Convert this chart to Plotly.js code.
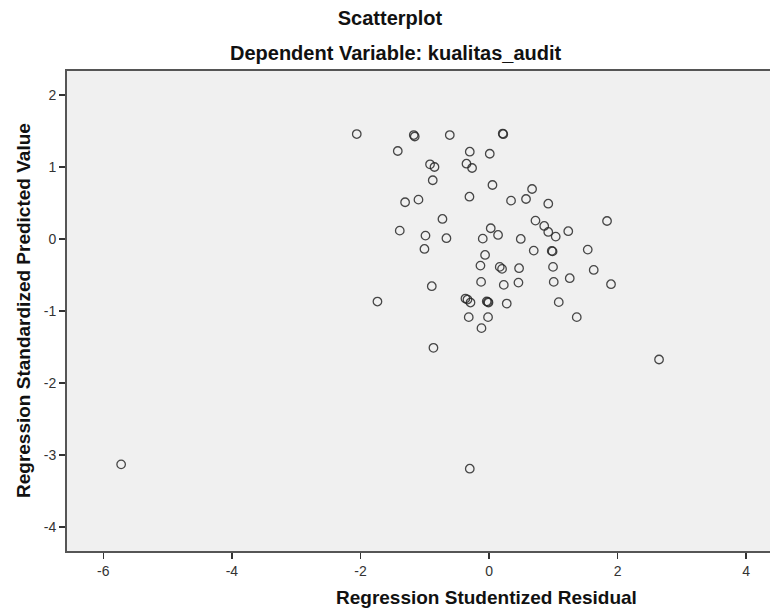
<!DOCTYPE html>
<html>
<head>
<meta charset="utf-8">
<script src="https://cdn.plot.ly/plotly-3.0.1.min.js"></script>
<style>html,body{margin:0;padding:0;background:#fff;}#chart{width:770px;height:613px;}</style>
</head>
<body>
<div id="chart"></div>
<script>
// Regression Studentized Residual (x)
const studentizedResidual = [
  -2.058, -1.171, -1.156, -0.611, 0.213, 0.221, -1.420, -0.300, 0.011, -0.918,
  -0.849, -0.351, -0.264, -0.876, 0.053, 0.669, -1.306, -1.098, -0.305, 0.342,
  0.575, 0.921, -0.725, 0.722, -1.389, -0.989, -0.663, 0.026, 0.140, -0.098,
  0.493, -1.005, -0.062, 0.695, 0.858, 0.921, 1.037, 1.232, 0.975, 0.988,
  1.535, -0.134, 0.166, 0.202, 0.467, 0.995, 1.628, -0.124, 0.229, 0.457,
  1.006, 1.255, -0.891, -1.736, -0.367, -0.336, -0.289, -0.036, -0.020, -0.009,
  0.275, 1.084, -0.316, -0.016, 1.364, -0.118, -0.865, 1.835, 1.897, 2.644,
  -5.723, -0.300
];
// Regression Standardized Predicted Value (y)
const standardizedPredicted = [
  1.455, 1.441, 1.421, 1.441, 1.462, 1.453, 1.220, 1.210, 1.182, 1.035,
  0.998, 1.044, 0.984, 0.814, 0.748, 0.693, 0.509, 0.545, 0.586, 0.531,
  0.554, 0.489, 0.277, 0.254, 0.115, 0.046, 0.010, 0.148, 0.055, 0.004,
  0.000, -0.139, -0.222, -0.162, 0.180, 0.097, 0.032, 0.107, -0.166, -0.173,
  -0.148, -0.370, -0.388, -0.416, -0.406, -0.388, -0.430, -0.596, -0.638, -0.606,
  -0.596, -0.545, -0.656, -0.869, -0.827, -0.841, -0.883, -0.866, -0.873, -0.883,
  -0.897, -0.877, -1.085, -1.085, -1.085, -1.238, -1.511, 0.249, -0.628, -1.673,
  -3.128, -3.188
];
const xTicks = [-6, -4, -2, 0, 2, 4];
const yTicks = [2, 1, 0, -1, -2, -3, -4];

const titleText = 'Scatterplot';
const subtitleText = 'Dependent Variable: kualitas_audit';
const xTitle = 'Regression Studentized Residual';
const yTitle = 'Regression Standardized Predicted Value';

const FONT = 'Liberation Sans, Arial, sans-serif';

const trace = {
  type: 'scatter',
  mode: 'markers',
  x: studentizedResidual,
  y: standardizedPredicted,
  marker: {
    symbol: 'circle-open',
    size: 8.5,
    color: 'rgba(40,40,40,0.85)',
    line: {width: 1.3, color: 'rgba(40,40,40,0.85)'}
  },
  hoverinfo: 'x+y',
  showlegend: false
};

const W = 770, H = 613;
const L = 67, R = 0, T = 71, B = 62;

const layout = {
  width: W, height: H,
  margin: {l: L, r: R, t: T, b: B, pad: 0},
  paper_bgcolor: '#ffffff',
  plot_bgcolor: '#f0f0f0',
  font: {family: FONT, size: 14, color: '#333'},
  title: {
    text: '<b>' + titleText + '</b>',
    font: {family: FONT, size: 20, color: '#111'},
    xref: 'container', x: 390 / W, xanchor: 'center',
    yref: 'container', y: 1 - 18 / H, yanchor: 'middle'
  },
  xaxis: {
    range: [-6.565, 4.37],
    tickvals: xTicks,
    ticktext: xTicks.map(String),
    ticks: 'outside', ticklen: 6, tickwidth: 1.5, tickcolor: '#333',
    showgrid: false, zeroline: false,
    showline: true, mirror: true, linecolor: '#555', linewidth: 2,
    tickfont: {family: FONT, size: 14, color: '#333'},
    title: {text: ''},
    fixedrange: true
  },
  yaxis: {
    range: [-4.33, 2.33],
    tickvals: yTicks,
    ticktext: yTicks.map(String),
    ticks: 'outside', ticklen: 6, tickwidth: 1.5, tickcolor: '#333',
    showgrid: false, zeroline: false,
    showline: true, mirror: false, linecolor: '#555', linewidth: 2,
    tickfont: {family: FONT, size: 14, color: '#333'},
    title: {text: ''},
    fixedrange: true
  },
  annotations: [
    {
      text: '<b>' + subtitleText + '</b>',
      xref: 'paper', x: (396 - L) / (W - L - R), xanchor: 'center',
      yref: 'paper', y: 1 + (T - 53) / (H - T - B), yanchor: 'middle',
      showarrow: false, font: {family: FONT, size: 20, color: '#111'}
    },
    {
      text: '<b>' + xTitle + '</b>',
      xref: 'paper', x: (486 - L) / (W - L - R), xanchor: 'center',
      yref: 'paper', y: -(597 - (H - B)) / (H - T - B), yanchor: 'middle',
      showarrow: false, font: {family: FONT, size: 19, color: '#111'}
    },
    {
      text: '<b>' + yTitle + '</b>',
      xref: 'paper', x: -(L - 23) / (W - L - R), xanchor: 'center',
      yref: 'paper', y: 0.5, yanchor: 'middle', textangle: -90,
      showarrow: false, font: {family: FONT, size: 19, color: '#111'}
    }
  ]
};

Plotly.newPlot('chart', [trace], layout, {displayModeBar: false, staticPlot: true});
</script>
</body>
</html>
